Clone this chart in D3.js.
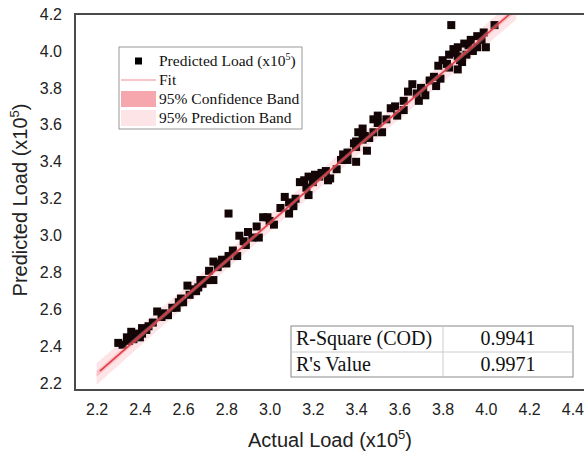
<!DOCTYPE html>
<html>
<head>
<meta charset="utf-8">
<script src="https://cdn.jsdelivr.net/npm/d3@7"></script>
<style>
  body { margin: 0; background: #fff; }
  .tick text { font: 16px "Liberation Sans", Arial, sans-serif; fill: #222; }
  .title { font: 20px "Liberation Sans", Arial, sans-serif; fill: #222; }
  .serif { font: 15.5px "Liberation Serif", "Times New Roman", serif; fill: #111; }
</style>
</head>
<body>
<script>
// actual load (x10^5) vs predicted load (x10^5)
var actual = [2.30,2.32,2.35,2.34,2.36,2.38,2.40,2.41,2.41,2.44,2.46,2.48,2.50,2.53,2.55,2.57,2.58,2.60,
  2.62,2.63,2.65,2.66,2.67,2.69,2.71,2.72,2.74,2.74,2.76,2.78,2.80,2.81,2.83,2.85,2.81,
  2.86,2.89,2.90,2.92,2.94,2.95,2.97,2.99,3.02,3.05,3.07,3.09,3.09,3.11,3.14,3.16,3.18,3.17,3.18,
  3.20,3.21,3.23,3.26,3.27,3.28,3.31,3.34,3.36,3.36,3.40,3.40,3.40,3.43,3.45,3.39,3.41,3.43,3.46,
  3.46,3.48,3.48,3.50,3.50,3.52,3.56,3.58,3.59,3.62,3.64,3.66,3.69,3.70,3.72,3.74,3.77,3.79,3.78,
  3.80,3.83,3.83,3.85,3.87,3.87,3.87,3.89,3.90,3.91,3.93,3.96,3.96,3.99,4.00,4.04,3.84,
  3.82,3.86,3.92,3.94,3.76,3.68,3.62,3.54,3.44,3.33,3.24,3.12,3.00,2.88,2.77,2.68,2.59,2.51,2.43,
  2.37,3.98,3.88,3.71];
var predicted = [2.42,2.41,2.43,2.45,2.48,2.47,2.45,2.47,2.50,2.51,2.53,2.59,2.56,2.57,2.61,2.61,2.64,2.64,
  2.73,2.68,2.71,2.70,2.72,2.74,2.76,2.81,2.86,2.76,2.83,2.87,2.85,2.89,2.92,2.89,3.12,
  3.00,2.95,3.02,2.99,3.05,2.99,3.10,3.10,3.06,3.15,3.21,3.18,3.12,3.16,3.29,3.30,3.22,3.26,3.32,
  3.29,3.33,3.32,3.35,3.30,3.31,3.36,3.44,3.45,3.41,3.40,3.51,3.48,3.52,3.46,3.50,3.56,3.58,3.53,
  3.53,3.56,3.63,3.61,3.65,3.56,3.69,3.70,3.65,3.68,3.78,3.82,3.73,3.80,3.76,3.84,3.81,3.85,3.92,
  3.95,3.98,3.91,4.01,3.90,3.97,4.02,3.94,4.04,3.98,4.06,4.02,4.08,4.10,4.02,4.14,4.14,
  3.93,3.99,4.03,4.00,3.86,3.77,3.73,3.63,3.54,3.41,3.34,3.20,3.08,2.97,2.85,2.76,2.66,2.58,2.49,
  2.44,4.06,3.95,3.79];

var fitSlope = 1.0195, fitIntercept = 0.009;
var fitRange = [2.215, 4.12];
var bandRange = [2.20, 4.14];
var confHalf = 0.012, predHalf = 0.045;

var xTicks = [2.2,2.4,2.6,2.8,3.0,3.2,3.4,3.6,3.8,4.0,4.2,4.4];
var yTicks = [2.2,2.4,2.6,2.8,3.0,3.2,3.4,3.6,3.8,4.0,4.2];

var legendLabels = ["Predicted Load (x10", "Fit", "95% Confidence Band", "95% Prediction Band"];
var statNames = ["R-Square (COD)", "R's Value"];
var statValues = ["0.9941", "0.9971"];

var W = 584, H = 455;
var pL = 75, pR = 594, pT = 14, pB = 390;

var svg = d3.select("body").append("svg")
  .attr("width", W).attr("height", H);

var x = d3.scaleLinear().domain([2.1, 4.5]).range([pL, pR]);
var y = d3.scaleLinear().domain([2.165, 4.2]).range([pB, pT]);

svg.append("defs").append("clipPath").attr("id", "plot")
  .append("rect").attr("x", pL).attr("y", pT)
  .attr("width", pR - pL).attr("height", pB - pT);

var plot = svg.append("g").attr("clip-path", "url(#plot)");

function fit(v) { return fitSlope * v + fitIntercept; }

var bandX = d3.range(bandRange[0], bandRange[1] + 0.001, 0.02);

function band(half) {
  return d3.area()
    .x(function(d) { return x(d); })
    .y0(function(d) {
      var m = (d - 3.15);
      return y(fit(d) - half * (1 + 0.35 * m * m));
    })
    .y1(function(d) {
      var m = (d - 3.15);
      return y(fit(d) + half * (1 + 0.35 * m * m));
    });
}

plot.append("path").datum(bandX)
  .attr("d", band(predHalf))
  .attr("fill", "#fde4e7");

plot.append("g").selectAll("rect")
  .data(actual)
  .enter().append("rect")
  .attr("x", function(d) { return x(d) - 4; })
  .attr("y", function(d, i) { return y(predicted[i]) - 4; })
  .attr("width", 8).attr("height", 8)
  .attr("fill", "#140606");

plot.append("path").datum(bandX)
  .attr("d", band(confHalf))
  .attr("fill", "#f4949c").attr("opacity", 0.45);

plot.append("line")
  .attr("x1", x(fitRange[0])).attr("y1", y(fit(fitRange[0])))
  .attr("x2", x(fitRange[1])).attr("y2", y(fit(fitRange[1])))
  .attr("stroke", "#e23a46").attr("stroke-width", 1.5);

// axes without tick marks
var xAxis = svg.append("g").attr("transform", "translate(0," + pB + ")")
  .call(d3.axisBottom(x).tickValues(xTicks).tickFormat(d3.format(".1f")).tickSize(0).tickPadding(14));
xAxis.select(".domain").remove();

var yAxis = svg.append("g").attr("transform", "translate(" + pL + ",0)")
  .call(d3.axisLeft(y).tickValues(yTicks).tickFormat(d3.format(".1f")).tickSize(0).tickPadding(13));
yAxis.select(".domain").remove();

svg.append("rect")
  .attr("x", pL).attr("y", pT)
  .attr("width", pR - pL).attr("height", pB - pT)
  .attr("fill", "none").attr("stroke", "#4a4a4a").attr("stroke-width", 2);

var xt = svg.append("text").attr("class", "title")
  .attr("x", 330).attr("y", 447).attr("text-anchor", "middle");
xt.append("tspan").text("Actual Load (x10");
xt.append("tspan").attr("dy", -8).attr("font-size", 13).text("5");
xt.append("tspan").attr("dy", 8).text(")");

var yt = svg.append("text").attr("class", "title")
  .attr("transform", "translate(27,200) rotate(-90)").attr("text-anchor", "middle");
yt.append("tspan").text("Predicted Load (x10");
yt.append("tspan").attr("dy", -8).attr("font-size", 13).text("5");
yt.append("tspan").attr("dy", 8).text(")");

// legend
var lg = svg.append("g");
lg.append("rect").attr("x", 119).attr("y", 47).attr("width", 183).attr("height", 82)
  .attr("fill", "#fff").attr("stroke", "#999").attr("stroke-width", 1);
var rowY = [61, 80, 99, 118];
lg.append("rect").attr("x", 135).attr("y", rowY[0] - 3.5).attr("width", 7).attr("height", 7).attr("fill", "#000");
lg.append("line").attr("x1", 121).attr("x2", 156).attr("y1", rowY[1]).attr("y2", rowY[1])
  .attr("stroke", "#f08a90").attr("stroke-width", 1.2);
lg.append("rect").attr("x", 121).attr("y", rowY[2] - 8).attr("width", 35).attr("height", 16).attr("fill", "#f6a6ad");
lg.append("rect").attr("x", 121).attr("y", rowY[3] - 8).attr("width", 35).attr("height", 16).attr("fill", "#fde4e7");
legendLabels.forEach(function(t, i) {
  var tx = lg.append("text").attr("class", "serif").attr("x", 159).attr("y", rowY[i] + 5).text(t);
  if (i === 0) {
    tx.append("tspan").attr("dy", -6).attr("font-size", 10).text("5");
    tx.append("tspan").attr("dy", 6).text(")");
  }
});

// stats table
var tb = svg.append("g");
var tl = 291, tr = 573, tt = 326, tm = 352, tbm = 377, tc = 443;
tb.append("rect").attr("x", tl).attr("y", tt).attr("width", tr - tl).attr("height", tbm - tt)
  .attr("fill", "#fff").attr("stroke", "#888").attr("stroke-width", 1);
tb.append("line").attr("x1", tl).attr("x2", tr).attr("y1", tm).attr("y2", tm).attr("stroke", "#ccc");
tb.append("line").attr("x1", tc).attr("x2", tc).attr("y1", tt).attr("y2", tbm).attr("stroke", "#ccc");
statNames.forEach(function(n, i) {
  var cy = i === 0 ? (tt + tm) / 2 : (tm + tbm) / 2;
  tb.append("text").attr("class", "serif").style("font-size", "20px")
    .attr("x", tl + 5).attr("y", cy + 6).text(n);
  tb.append("text").attr("class", "serif").style("font-size", "20px")
    .attr("x", (tc + tr) / 2).attr("y", cy + 6).attr("text-anchor", "middle").text(statValues[i]);
});
</script>
</body>
</html>
